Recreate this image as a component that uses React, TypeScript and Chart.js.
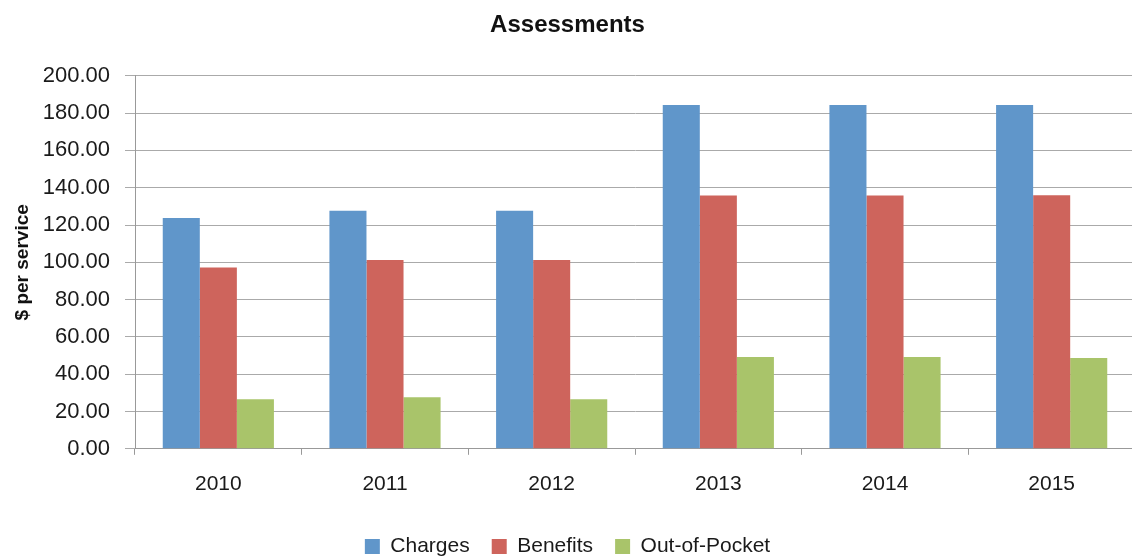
import React, { useEffect, useRef } from "react";
import { Chart, registerables } from "chart.js";

Chart.register(...registerables);

const categories = ["2010", "2011", "2012", "2013", "2014", "2015"];
const charges = [123.8, 127.7, 127.7, 184.3, 184.3, 184.3];
const benefits = [97.2, 101.3, 101.3, 135.8, 135.8, 136.0];
const outOfPocket = [26.6, 27.6, 26.6, 49.2, 49.2, 48.7];
const seriesNames = ["Charges", "Benefits", "Out-of-Pocket"];
const seriesColors = ["#6096CA", "#CE645C", "#A9C46A"];
const yTicks = { min: 0, max: 200, step: 20 };

const FONT = "'Liberation Sans', Arial, sans-serif";

export default function App() {
  const ref = useRef<HTMLCanvasElement | null>(null);
  useEffect(() => {
    document.body.style.margin = "0";
    if (!ref.current) return;
    const chart = new Chart(ref.current, {
      type: "bar",
      data: {
        labels: categories,
        datasets: [charges, benefits, outOfPocket].map((d, i) => ({
          label: seriesNames[i],
          data: d,
          backgroundColor: seriesColors[i],
          borderWidth: 0,
          categoryPercentage: 0.667,
          barPercentage: 1.0,
        })),
      },
      options: {
        responsive: false,
        animation: false,
        layout: { padding: { left: 0, right: 0, top: 0, bottom: -11 } },
        plugins: {
          title: {
            display: true,
            text: "Assessments",
            color: "#111",
            font: { family: FONT, size: 24, weight: "bold" },
            padding: { top: 11, bottom: 36 },
          },
          legend: {
            position: "bottom",
            labels: {
              color: "#1a1a1a",
              font: { family: FONT, size: 21 },
              boxWidth: 15,
              boxHeight: 15,
              padding: 22,
            },
          },
          tooltip: { enabled: false },
        },
        scales: {
          x: {
            grid: {
              display: true,
              drawOnChartArea: false,
              offset: true,
              tickLength: 6,
              color: "#999",
            },
            border: { display: true, color: "#999", width: 1 },
            ticks: {
              color: "#1a1a1a",
              font: { family: FONT, size: 21 },
              padding: 17,
            },
          },
          y: {
            min: yTicks.min,
            max: yTicks.max,
            afterFit: (scale: any) => {
              scale.width = 135;
            },
            grid: { color: "#aaa", tickLength: 10 },
            border: { display: true, color: "#999", width: 1 },
            ticks: {
              stepSize: yTicks.step,
              color: "#1a1a1a",
              font: { family: FONT, size: 22 },
              padding: 15,
              callback: (v: any) => Number(v).toFixed(2),
            },
            title: {
              display: true,
              text: "$ per service",
              color: "#111",
              font: { family: FONT, size: 19, weight: "bold" },
              padding: { top: 11, bottom: 12 },
            },
          },
        },
      },
    });
    return () => chart.destroy();
  }, []);
  return (
    <div style={{ width: 1132, height: 556, overflow: "hidden", position: "relative" }}>
      <canvas ref={ref} width={1135} height={556} style={{ display: "block" }} />
    </div>
  );
}
